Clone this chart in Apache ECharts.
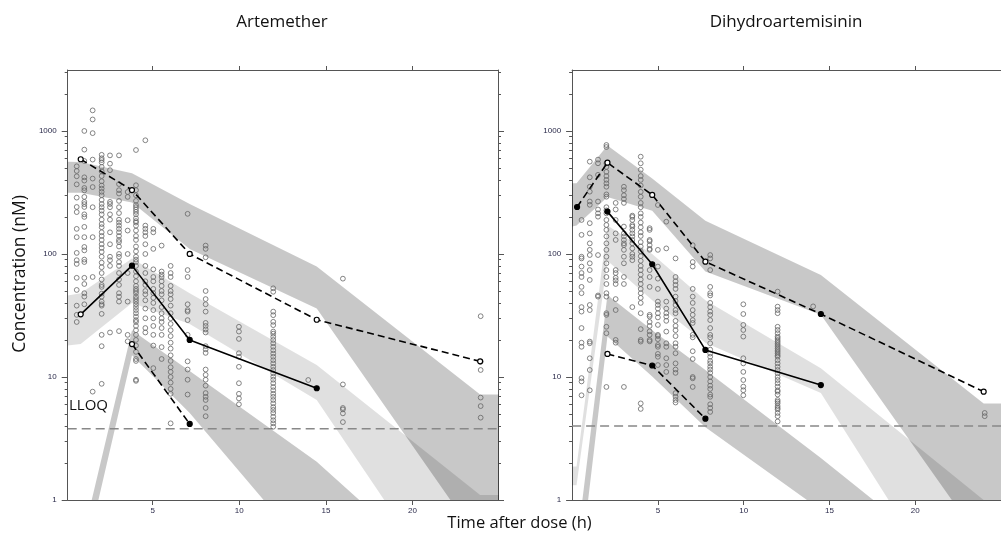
<!DOCTYPE html>
<html>
<head>
<meta charset="utf-8">
<script src="https://cdn.jsdelivr.net/npm/echarts@6/dist/echarts.min.js"></script>
<style>
  html, body { margin: 0; padding: 0; background: #fff; }
  #chart { width: 1001px; height: 533px; }
</style>
</head>
<body>
<div id="chart"></div>
<script>
// ---------------- data ----------------
const panelTitles = ['Artemether', 'Dihydroartemisinin'];
const xTickValues = [5, 10, 15, 20];
const yMajorTicks = [1, 10, 100, 1000];
const yMinorTicks = [2, 3, 4, 5, 6, 7, 8, 9, 20, 30, 40, 50, 60, 70, 80, 90,
  200, 300, 400, 500, 600, 700, 800, 900, 2000, 3000];
const lloqValues = [3.8, 4.0];

// Artemether: observed concentrations (nM) grouped by sampling time (h)
const artSampleTimes = [0.62, 1.06, 1.54, 2.06, 2.54, 3.06, 3.56, 4.04, 4.58, 5.04, 5.52, 6.04, 7.02, 8.06, 9.98, 11.96, 13.98, 15.98, 23.93];
const artObserved = [
  [516, 473, 428, 368, 287, 241, 219, 160, 137, 102, 89, 83, 64, 51, 38, 32, 28],
  [1000, 705, 570, 420, 395, 344, 329, 291, 265, 254, 241, 210, 200, 166, 137, 114, 107, 90, 86, 64, 57, 48, 45, 39],
  [1470, 1240, 960, 585, 410, 350, 240, 137, 65, 7.6],
  [640, 600, 580, 555, 510, 470, 430, 390, 360, 340, 320, 300, 275, 255, 240, 225, 210, 190, 175, 165, 150, 140, 130, 120, 112, 104, 95, 85, 78, 70, 62, 56, 54, 47.6, 45, 41, 39, 38, 32.6, 22, 17.8, 8.8],
  [633, 542, 480, 265, 255, 240, 210, 190, 150, 120, 95, 89, 80, 23],
  [633, 370, 330, 310, 270, 240, 215, 190, 180, 170, 160, 150, 140, 130, 125, 115, 100, 95, 86, 80, 70, 62, 56, 48, 45, 41, 23.6],
  [319, 291, 188, 155, 100, 70, 41, 22, 19.5],
  [700, 362, 330, 300, 270, 250, 240, 230, 220, 210, 195, 185, 180, 170, 155, 140, 130, 115, 105, 95, 90, 86, 80, 72, 66, 60, 55, 52, 50, 48, 45, 43, 41, 39, 37, 35, 33, 31, 29, 28, 26, 24, 22, 20, 18, 16, 14, 13.5, 9.5, 9.3],
  [840, 170, 160, 150, 140, 120, 100, 80, 70, 60, 56, 50, 47, 42, 36, 30, 25, 23],
  [160, 150, 110, 75, 65, 60, 52, 48, 44, 40, 35, 30, 26, 22, 18, 11.8],
  [117, 72, 68, 65, 60, 55, 50, 47, 42, 37, 33, 30, 28, 25, 22, 17.5, 14],
  [80, 70, 65, 55, 50, 47, 43, 38, 33, 30, 27, 24, 21.5, 19, 17, 15, 13.5, 12, 11, 10, 9, 8, 7.3, 4.2],
  [212, 74, 65, 39, 35, 34, 29, 22, 13.4, 11.5, 9.5, 7.2],
  [117, 110, 94, 50, 43, 39, 34, 27.5, 26, 24.4, 23, 17.8, 16.8, 15.7, 11.5, 10.4, 9.5, 8.5, 7.4, 6.9, 6.5, 5.6, 4.8],
  [25.6, 23.4, 20.4, 15.6, 14.6, 12.1, 8.9, 7.3, 6.7, 6.0],
  [52.6, 49.3, 34, 31.8, 28.1, 26.4, 23.4, 22.5, 21.2, 20, 18.8, 17.6, 16.5, 15.5, 14.6, 13.7, 12.9, 12.1, 11.4, 10.7, 10.05, 9.5, 8.9, 8.3, 7.8, 7.3, 6.9, 6.5, 6.1, 5.7, 5.4, 5.1, 4.75, 4.45, 4.2, 3.94],
  [9.45],
  [63, 8.7, 5.6, 5.45, 5.06, 4.3],
  [31.2, 13.3, 11.4, 6.8, 5.8, 4.67]
];

// Dihydroartemisinin: observed concentrations (nM) grouped by sampling time (h)
const dhaSampleTimes = [0.55, 1.03, 1.51, 2.0, 2.54, 3.02, 3.51, 4.0, 4.52, 5.0, 5.49, 6.03, 7.03, 8.05, 9.98, 11.98, 14.05, 24.05];
const dhaObserved = [
  [189, 143, 95, 92, 79, 70, 65, 54, 48, 37, 34, 25, 19, 17.6, 9.8, 9.2, 7.1],
  [563, 420, 352, 321, 267, 251, 178, 147, 122, 108, 98, 84, 74, 61.5, 38.5, 35, 19.4, 18.8, 14.2, 11.4, 7.8],
  [585, 546, 440, 267, 230, 214, 201, 98, 46, 45],
  [769, 740, 546, 510, 465, 430, 400, 375, 352, 305, 292, 240, 226, 214, 189, 172, 157, 139, 122, 108, 95, 84, 74, 65, 57, 48, 45, 33, 32, 25.6, 22.7, 8.3],
  [260, 230, 189, 147, 130, 74, 70, 64, 61, 57, 43, 35, 20, 19],
  [352, 330, 300, 280, 260, 167, 147, 139, 130, 122, 118, 108, 95, 84, 65, 57, 8.3],
  [205, 200, 189, 172, 167, 157, 147, 139, 130, 122, 111, 100, 95, 89, 37],
  [618, 546, 484, 430, 400, 360, 320, 292, 260, 240, 214, 200, 180, 165, 150, 140, 125, 115, 105, 96, 88, 80, 74, 68, 62, 57, 52, 48, 44, 40, 33, 24.5, 20, 19.4, 6.1, 5.5],
  [162, 157, 130, 127, 118, 110, 108, 74, 65, 54, 32, 31, 28, 26, 23.5, 22, 20, 19.5],
  [250, 108, 79, 63, 52, 41, 38.5, 36, 33, 30.5, 26.5, 22, 21.5, 20.3, 18.2, 17.6, 15.4, 14.6, 12.5],
  [183, 111, 41, 36, 33, 31, 28.6, 23.4, 18.8, 17.6, 14.2, 12.5, 11],
  [92, 65, 60, 56, 52, 45, 41.5, 38.5, 35, 33, 28.6, 26, 24, 21.5, 18.8, 17.6, 15.6, 12.9, 11.5, 10.8, 7.4, 6.9, 6.5, 6.2],
  [118, 86, 79, 52, 45, 40, 35, 32, 29, 27.5, 22, 21, 16.2, 14, 10, 9.75, 8.3],
  [98, 92, 74, 54, 48, 46, 40, 37, 34, 32, 29, 25, 22, 21, 18.8, 16.7, 15.5, 14.6, 13.5, 12.9, 12.1, 11.5, 10.8, 10, 9.2, 8.5, 8, 7.2, 6.9, 6, 5.6, 5.2],
  [39, 32.5, 26.5, 24.1, 21.3, 14.2, 12.9, 11, 9.45, 8.35, 7.8, 7.1],
  [49.4, 37.3, 35, 33, 25.6, 24.1, 22.7, 21.3, 20.7, 20, 19.4, 18.8, 18.2, 17.6, 17, 16.5, 16, 15.5, 15, 14.6, 13.7, 12.9, 12.1, 11.4, 10.7, 10, 9.45, 8.9, 8.35, 7.8, 7.6, 7.2, 6.5, 6.3, 6.1, 5.8, 5.6, 5.45, 5.1, 4.8, 4.35],
  [37.5],
  [5.1, 4.8]
];

// observed percentiles per time bin (null = not computed for that bin)
const artBinTimes = [0.85, 3.81, 7.14, 14.47, 23.9];
const artObsP95 = [589, 331, 100, 29.2, 13.4];
const artObsP50 = [32.3, 80.4, 20, 8.1, null];
const artObsP05 = [null, 18.5, 4.15, null, null];

const dhaBinTimes = [0.29, 2.06, 4.67, 7.77, 14.5, 23.99];
const dhaObsP95 = [241, 552, 302, 86.6, 32.5, 7.6];
const dhaObsP50 = [null, 221, 82.5, 16.6, 8.6, null];
const dhaObsP05 = [null, 15.4, 12.4, 4.58, null, null];

// simulated confidence intervals of the 95th / 50th / 5th percentiles
const artBandTimes = [0.1, 0.85, 3.81, 7.14, 14.47, 23.9, 25];
const artP95Upper = [563, 560, 453, 255, 79, 7.2, 7.2];
const artP95Lower = [315, 315, 262, 110, 36, 0.45, 0.45];
const artP50Upper = [46, 48, 92, 48, 12.5, 1.1, 1.1];
const artP50Lower = [18, 18.5, 40, 27, 6.5, 0.07, 0.07];
const artP05Upper = [0.42, 0.42, 24, 11.2, 2.05, 0.13, 0.13];
const artP05Lower = [0.24, 0.24, 15, 5.1, 0.31, 0.02, 0.02];

const dhaBandTimes = [0, 0.26, 2.06, 4.67, 7.77, 14.5, 23.99, 25.5];
const dhaP95Upper = [376, 376, 760, 410, 186, 67.5, 6.1, 6.1];
const dhaP95Lower = [167, 170, 290, 225, 72, 32, 0.43, 0.43];
const dhaP50Upper = [1.87, 1.87, 170, 100, 42, 11.8, 1.0, 1.0];
const dhaP50Lower = [1.32, 1.32, 88, 42, 19, 7.4, 0.06, 0.06];
const dhaP05Upper = [0.41, 0.41, 46.4, 24, 11.4, 2.2, 0.19, 0.19];
const dhaP05Lower = [0.16, 0.16, 21.3, 10.1, 3.9, 0.83, 0.01, 0.01];

// ---------------- layout & styles ----------------
const Y_MIN = 1, Y_MAX = 3130;
const panels = [
  { left: 67.7, width: 430.3, xMin: 0.1, xMax: 24.93 },
  { left: 572.1, width: 431.3, xMin: 0, xMax: 25 }
];
const GRID_TOP = 70, GRID_HEIGHT = 430;
const AXIS_COLOR = '#555';
const LABEL_COLOR = '#2a2a4a';
const DARK_BAND = 'rgba(0,0,0,0.215)';
const LIGHT_BAND = 'rgba(0,0,0,0.12)';
const TEXT_FONT = '"Open Sans", "Liberation Sans", sans-serif';

// which percentile markers are drawn solid
const markerFill = [
  { p95: [0, 0, 0, 0, 0], p50: [0, 1, 1, 1, 0], p05: [0, 0, 1, 0, 0] },
  { p95: [1, 0, 0, 0, 1, 0], p50: [0, 1, 1, 1, 1, 0], p05: [0, 0, 1, 1, 0, 0] }
];

const chart = echarts.init(document.getElementById('chart'), null, { renderer: 'canvas' });

const grids = panels.map(p => ({ left: p.left, top: GRID_TOP, width: p.width, height: GRID_HEIGHT }));

const xAxes = [];
const yAxes = [];
panels.forEach((p, gi) => {
  const base = {
    gridIndex: gi, type: 'value', min: p.xMin, max: p.xMax,
    splitLine: { show: false },
    axisLine: { show: true, lineStyle: { color: AXIS_COLOR, width: 1 } }
  };
  xAxes.push(Object.assign({}, base, {
    position: 'bottom',
    axisTick: { show: true, inside: false, length: 5, customValues: xTickValues, lineStyle: { color: AXIS_COLOR } },
    axisLabel: { show: true, customValues: xTickValues, fontSize: 8, color: LABEL_COLOR, margin: 7,
      fontFamily: 'Liberation Sans' }
  }));
  xAxes.push(Object.assign({}, base, {
    position: 'top',
    axisTick: { show: true, inside: false, length: 4, customValues: xTickValues, lineStyle: { color: AXIS_COLOR } },
    axisLabel: { show: false }
  }));
  const ybase = { gridIndex: gi, type: 'log', logBase: 10, min: Y_MIN, max: Y_MAX, splitLine: { show: false } };
  ['left', 'right'].forEach(side => {
    yAxes.push(Object.assign({}, ybase, {
      position: side,
      axisLine: { show: true, lineStyle: { color: AXIS_COLOR, width: 1 } },
      axisTick: { show: true, inside: false, length: 6, customValues: yMajorTicks, lineStyle: { color: AXIS_COLOR } },
      axisLabel: {
        show: side === 'left', customValues: yMajorTicks, fontSize: 8, color: LABEL_COLOR, margin: 11,
        fontFamily: 'Liberation Sans', formatter: v => String(Math.round(v))
      }
    }));
    yAxes.push(Object.assign({}, ybase, {
      position: side,
      axisLine: { show: false },
      axisTick: { show: true, inside: false, length: 3, customValues: yMinorTicks, lineStyle: { color: AXIS_COLOR } },
      axisLabel: { show: false }
    }));
  });
});

function bandSeries(gi, times, upper, lower, fill) {
  return {
    type: 'custom', xAxisIndex: gi * 2, yAxisIndex: gi * 4, clip: true, silent: true, z: 1,
    data: [[times[0], upper[0]]],
    renderItem: (params, api) => {
      const pts = [];
      for (let i = 0; i < times.length; i++) pts.push(api.coord([times[i], upper[i]]));
      for (let i = times.length - 1; i >= 0; i--) pts.push(api.coord([times[i], lower[i]]));
      return { type: 'polygon', shape: { points: pts }, style: { fill: fill, stroke: null } };
    }
  };
}

function scatterSeries(gi, times, groups) {
  const pts = [];
  times.forEach((t, i) => groups[i].forEach(c => pts.push([t, c])));
  return {
    type: 'scatter', xAxisIndex: gi * 2, yAxisIndex: gi * 4, z: 3, silent: true,
    symbol: 'circle', symbolSize: 4.8, data: pts,
    itemStyle: { color: 'rgba(255,255,255,0)', borderColor: '#666', borderWidth: 0.8, opacity: 1 }
  };
}

function percentileSeries(gi, times, values, fills, dashed) {
  const pts = [];
  times.forEach((t, i) => {
    if (values[i] == null) return;
    pts.push({
      value: [t, values[i]],
      itemStyle: { color: fills[i] ? '#000' : '#fff', borderColor: '#000', borderWidth: 1.2 }
    });
  });
  return {
    type: 'line', xAxisIndex: gi * 2, yAxisIndex: gi * 4, z: 5, silent: true,
    data: pts, symbol: 'circle', symbolSize: 5, showAllSymbol: true,
    lineStyle: { color: '#000', width: 1.6, type: dashed ? [7, 4] : 'solid' },
    clip: true
  };
}

function lloqSeries(gi, level) {
  const p = panels[gi];
  return {
    type: 'line', xAxisIndex: gi * 2, yAxisIndex: gi * 4, z: 2, silent: true,
    data: [[p.xMin, level], [p.xMax, level]], symbol: 'none',
    lineStyle: { color: '#888', width: 1.4, type: [9, 5] }
  };
}

const series = [];
const bandSets = [
  { t: artBandTimes, b: [[artP95Upper, artP95Lower, DARK_BAND], [artP50Upper, artP50Lower, LIGHT_BAND], [artP05Upper, artP05Lower, DARK_BAND]] },
  { t: dhaBandTimes, b: [[dhaP95Upper, dhaP95Lower, DARK_BAND], [dhaP50Upper, dhaP50Lower, LIGHT_BAND], [dhaP05Upper, dhaP05Lower, DARK_BAND]] }
];
bandSets.forEach((s, gi) => s.b.forEach(b => series.push(bandSeries(gi, s.t, b[0], b[1], b[2]))));
lloqValues.forEach((v, gi) => series.push(lloqSeries(gi, v)));
series.push(scatterSeries(0, artSampleTimes, artObserved));
series.push(scatterSeries(1, dhaSampleTimes, dhaObserved));
series.push(percentileSeries(0, artBinTimes, artObsP95, markerFill[0].p95, true));
series.push(percentileSeries(0, artBinTimes, artObsP50, markerFill[0].p50, false));
series.push(percentileSeries(0, artBinTimes, artObsP05, markerFill[0].p05, true));
series.push(percentileSeries(1, dhaBinTimes, dhaObsP95, markerFill[1].p95, true));
series.push(percentileSeries(1, dhaBinTimes, dhaObsP50, markerFill[1].p50, false));
series.push(percentileSeries(1, dhaBinTimes, dhaObsP05, markerFill[1].p05, true));

function label(text, x, y, size, rotation) {
  return {
    type: 'text', x: x, y: y, rotation: rotation || 0, z: 10,
    style: { text: text, font: size + 'px ' + TEXT_FONT, fill: '#111',
      align: 'center', verticalAlign: 'middle', textAlign: 'center', textVerticalAlign: 'middle' }
  };
}

const graphics = [
  label(panelTitles[0], 282, 22, 17),
  label(panelTitles[1], 786, 22, 17),
  label('Time after dose (h)', 519.5, 523, 16.5),
  label('Concentration (nM)', 20, 274, 17.5, Math.PI / 2),
  label('LLOQ', 88.5, 406, 15)
];

chart.setOption({
  animation: false,
  backgroundColor: '#fff',
  grid: grids,
  xAxis: xAxes,
  yAxis: yAxes,
  series: series,
  graphic: graphics
});
</script>
</body>
</html>
